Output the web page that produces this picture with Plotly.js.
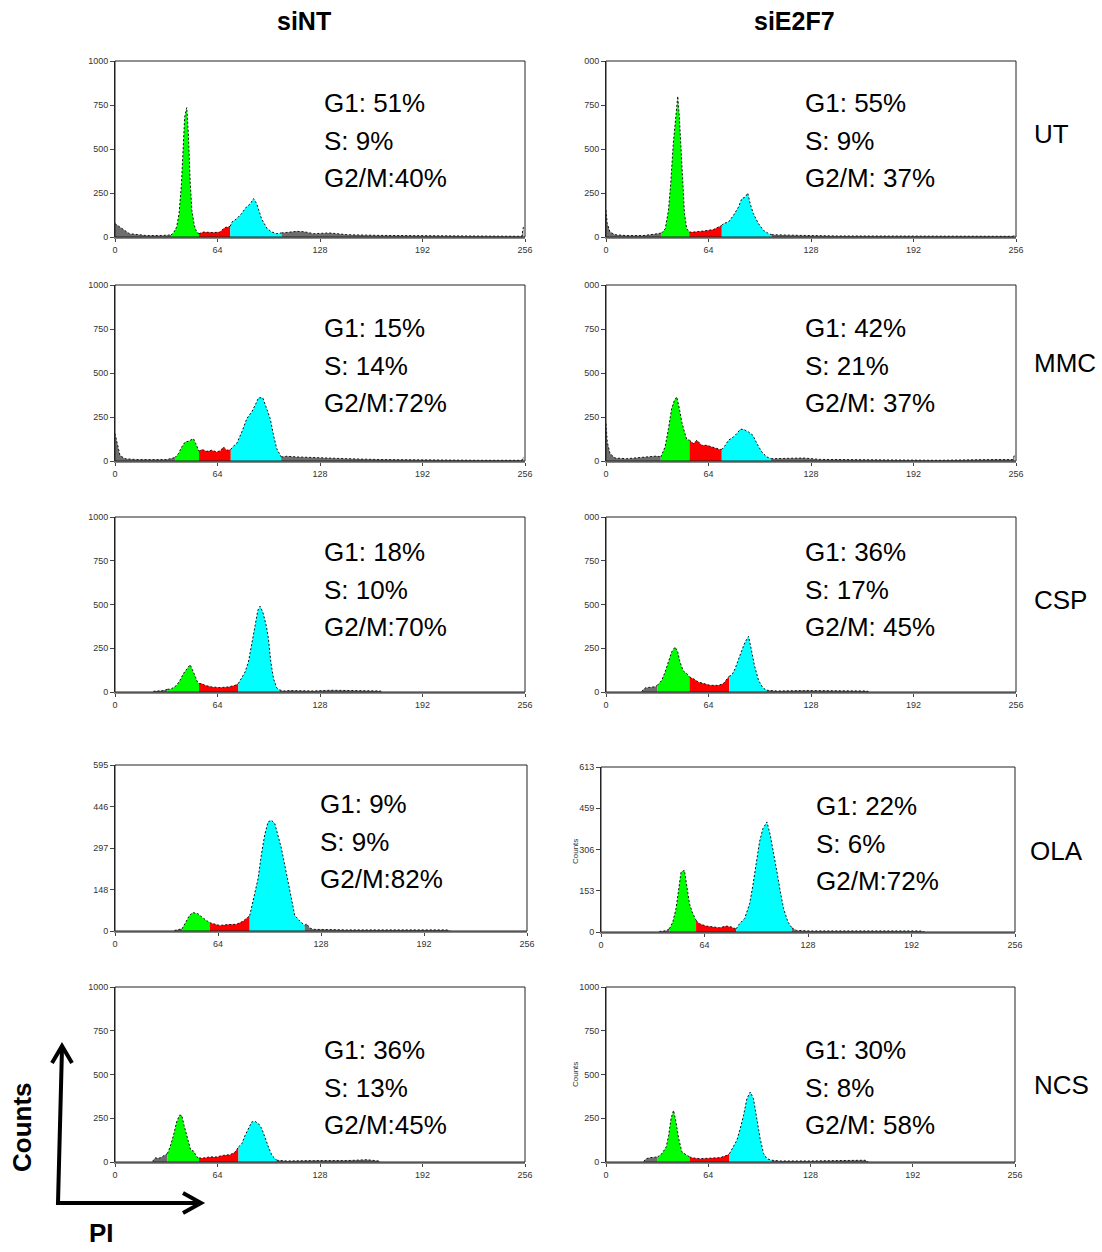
<!DOCTYPE html>
<html><head><meta charset="utf-8">
<script src="https://cdn.plot.ly/plotly-3.0.1.min.js"></script>
<style>html,body{margin:0;padding:0;background:#fff}#chart{width:1102px;height:1252px}</style>
</head><body><div id="chart"></div>
<script>
// ---------------- DATA (channel = PI intensity 0-256, counts) ----------------
const columnLabels = ['siNT', 'siE2F7'];
const rowLabels = ['UT', 'MMC', 'CSP', 'OLA', 'NCS'];

const xTickVals = [0, 64, 128, 192, 256];
const xTickText = ['0', '64', '128', '192', '256'];
const yTickVals1000 = [0, 250, 500, 750, 1000];
const yTickTextLeft = ['0', '250', '500', '750', '1000'];
const yTickTextRight = ['0', '250', '500', '750', '000'];
const yTickValsOlaA = [0, 148.75, 297.5, 446.25, 595];
const yTickTextOlaA = ['0', '148', '297', '446', '595'];
const yTickValsOlaB = [0, 153.25, 306.5, 459.75, 613];
const yTickTextOlaB = ['0', '153', '306', '459', '613'];

// gates: [G1 start, S start, G2/M start, G2/M end]
const utA_ch = [0, 1, 3, 9, 20, 30, 35, 36.5, 38.5, 40, 41.5, 42.5, 43.5, 44.8, 45.8, 47, 48, 49.5, 51, 52.5, 55, 61.5, 65.5, 68.5, 72, 73, 76, 79, 82, 84.5, 86.5, 88.5, 91.5, 95, 98, 101, 104, 108, 113.5, 118, 124, 134, 145, 166, 186, 207, 228, 249, 254, 255];
const utA_cnt = [76, 68, 57, 19, 8, 9, 12, 23, 57, 133, 303, 492, 682, 735, 587, 303, 152, 66, 28, 19, 28, 25, 28, 53, 61, 85, 104, 133, 170, 189, 218, 189, 104, 47, 28, 19, 23, 28, 32, 30, 19, 23, 13, 9, 8, 6, 6, 4, 4, 57];
const utA_gates = [35, 52.5, 72, 104];
const utA_pct = ['G1: 51%', 'S: 9%', 'G2/M:40%'];

const utB_ch = [0, 0.8, 2.5, 5.6, 13, 23, 29.6, 34.8, 37, 39, 40.4, 42, 43.8, 44.8, 45.8, 47, 48, 49, 50.4, 52, 54.6, 60.8, 67, 71.2, 72.3, 73.3, 76.5, 79.6, 82.7, 84.8, 87, 88.5, 90, 92, 95.2, 98.3, 101.5, 103.5, 113, 123, 144, 186, 230, 254, 255];
const utB_cnt = [152, 76, 28, 13, 8, 8, 15, 23, 47, 152, 303, 530, 720, 800, 682, 492, 265, 133, 47, 28, 28, 34, 42, 61, 66, 76, 85, 123, 170, 218, 227, 250, 189, 133, 76, 38, 19, 13, 13, 9, 6, 4, 4, 4, 11];
const utB_gates = [34.8, 52, 72.3, 103.5];
const utB_pct = ['G1: 55%', 'S: 9%', 'G2/M: 37%'];

const mmA_ch = [0, 1.5, 3.1, 6.2, 13.5, 32.3, 36.5, 37.5, 39.6, 41.7, 43.8, 45.8, 47.3, 49, 50.4, 51.5, 52.5, 54.2, 57.3, 60.4, 63.5, 66, 67.7, 69.8, 72.3, 74, 76, 79.2, 82.3, 85.4, 87.5, 89.6, 92.3, 94.8, 96.9, 99, 101, 103.8, 107.3, 113.5, 124, 145, 166, 186, 228, 254, 255];
const mmA_cnt = [156, 89, 32, 13, 8, 8, 17, 20, 42, 80, 108, 112, 121, 127, 99, 70, 55, 66, 55, 61, 51, 60, 80, 61, 66, 85, 99, 165, 241, 279, 317, 359, 359, 298, 241, 146, 70, 23, 27, 23, 19, 13, 8, 6, 4, 4, 23];
const mmA_gates = [37.5, 52.5, 72.3, 103.8];
const mmA_pct = ['G1: 15%', 'S: 14%', 'G2/M:72%'];

const mmB_ch = [0, 0.8, 2.5, 5.6, 12.9, 19.2, 25.4, 31.7, 34.2, 36.9, 39, 41, 42.7, 44.2, 45.8, 47.3, 49, 50.4, 52.1, 54.6, 56.7, 59.8, 62.9, 67.1, 71.2, 72.3, 73.8, 76.5, 79.6, 81.7, 83.8, 85.8, 89, 91.7, 94.2, 97.3, 100.4, 103.1, 113, 123, 133.8, 165, 206.7, 242, 254, 255];
const mmB_cnt = [212, 108, 42, 17, 13, 17, 21, 28, 23, 80, 184, 298, 345, 364, 298, 222, 165, 123, 118, 99, 118, 89, 89, 76, 66, 66, 80, 118, 137, 156, 180, 180, 165, 146, 99, 51, 23, 13, 13, 17, 9, 8, 4, 8, 8, 32];
const mmB_gates = [34.2, 52.1, 72.3, 103.1];
const mmB_pct = ['G1: 42%', 'S: 21%', 'G2/M: 37%'];

const csA_ch = [24, 30.2, 32.7, 35.4, 38.5, 40.6, 42.7, 44.8, 46.9, 48.5, 50, 51.5, 52.5, 54.2, 56.2, 60.4, 65.6, 70.8, 75, 77, 79.2, 81.2, 83.3, 85.4, 87.5, 89.2, 90.6, 92.3, 94.4, 95.8, 97.3, 99, 101, 102.7, 105.2, 109.4, 124, 134.4, 155, 165.6, 166.7];
const csA_cnt = [4, 8, 15, 19, 38, 67, 105, 133, 156, 124, 86, 57, 48, 48, 38, 29, 25, 29, 38, 48, 86, 114, 171, 267, 381, 467, 490, 457, 381, 305, 171, 76, 23, 12, 6, 8, 6, 10, 10, 6, 0];
const csA_gates = [32.7, 52.5, 77, 102.7];
const csA_pct = ['G1: 18%', 'S: 10%', 'G2/M:70%'];

const csB_ch = [22.3, 24.4, 27.5, 30.6, 32.1, 34.8, 36.9, 39, 41, 43.1, 44.8, 46.2, 48.3, 50.4, 52.1, 54.6, 57.7, 60.8, 65, 70.2, 73.3, 76.5, 76.9, 78.5, 80.6, 82.7, 84.8, 86.9, 89, 90.6, 92.7, 95.2, 98, 100.4, 106.7, 123.3, 144, 163, 164];
const csB_cnt = [4, 23, 27, 30, 38, 67, 114, 171, 229, 257, 229, 171, 120, 105, 86, 76, 57, 48, 38, 38, 48, 86, 90, 95, 133, 190, 238, 286, 318, 248, 152, 67, 23, 10, 6, 8, 6, 6, 0];
const csB_gates = [32.1, 52.1, 76.9, 100.4];
const csB_pct = ['G1: 36%', 'S: 17%', 'G2/M: 45%'];

const olA_ch = [37, 40, 41.7, 43.8, 46.3, 48.4, 51.5, 54.6, 57.1, 58.8, 60.8, 65, 70.2, 75.4, 79.5, 82.6, 83.7, 84.7, 86.8, 88.9, 90.9, 93, 95.1, 97.2, 99.3, 101.3, 103.4, 105.5, 107.6, 109.6, 111.7, 114.8, 117.9, 119, 121, 123, 143.9, 185.4, 194.8, 206.2, 208.3];
const olA_cnt = [2, 6, 8, 32, 56, 66, 62, 47, 35, 30, 26, 20, 23, 24, 35, 50, 55, 80, 128, 188, 272, 344, 391, 397, 385, 344, 296, 236, 176, 116, 56, 36, 20, 26, 11, 6, 4, 4, 6, 4, 0];
const olA_gates = [41.7, 58.8, 83.7, 117.9];
const olA_pct = ['G1: 9%', 'S: 9%', 'G2/M:82%'];

const olB_ch = [36.1, 40.3, 42.3, 44.4, 46.4, 48.1, 49.5, 51.6, 53.1, 54.7, 56.4, 57.8, 58.8, 60.9, 65, 69.2, 73.3, 77.4, 80.5, 83.2, 83.6, 85.7, 88.8, 91.9, 93.9, 96, 98, 100.1, 102.6, 104.7, 106.7, 108.8, 110.9, 112.9, 115.6, 118.1, 120.8, 129, 160, 191, 197.1, 200.2];
const olB_cnt = [2, 5, 12, 37, 87, 161, 223, 229, 161, 105, 74, 52, 43, 31, 22, 19, 16, 22, 19, 12, 12, 31, 50, 105, 173, 260, 334, 384, 409, 359, 297, 223, 149, 87, 37, 15, 6, 4, 4, 6, 4, 0];
const olB_gates = [42.3, 58.8, 83.6, 118.1];
const olB_pct = ['G1: 22%', 'S: 6%', 'G2/M:72%'];

const ncA_ch = [23.5, 25, 28.1, 31.2, 32.7, 34.4, 36.5, 38.5, 40.2, 41.7, 43.1, 45.2, 47.3, 49, 51, 52.5, 55.2, 59.4, 63.5, 67.7, 71.9, 75, 77.1, 79.2, 81.2, 83.3, 85.4, 87.5, 89.6, 91.7, 93.8, 95.8, 97.9, 101, 107.3, 124, 144.8, 157.3, 164.6, 165.6];
const ncA_cnt = [4, 23, 23, 38, 48, 86, 152, 229, 267, 267, 210, 133, 67, 63, 29, 23, 23, 29, 29, 38, 42, 57, 86, 105, 152, 190, 229, 232, 219, 190, 133, 86, 38, 10, 6, 8, 8, 13, 6, 0];
const ncA_gates = [32.7, 52.5, 77.1, 101];
const ncA_pct = ['G1: 36%', 'S: 13%', 'G2/M:45%'];

const ncB_ch = [23.6, 25.2, 27.7, 30.9, 32.3, 35, 37.7, 39.2, 40.7, 42.3, 43.8, 45.5, 47.5, 50.3, 52.3, 54.8, 59, 65.2, 71.5, 75.7, 77.3, 79.8, 81.9, 84, 86.1, 88.2, 90.3, 92.3, 94.4, 96.5, 98.6, 100.7, 103.8, 109, 127.8, 148.6, 162.2, 164.3];
const ncB_cnt = [4, 19, 25, 25, 29, 48, 86, 152, 248, 295, 229, 133, 57, 38, 29, 23, 19, 23, 25, 38, 48, 86, 124, 190, 267, 362, 400, 362, 248, 133, 48, 19, 10, 6, 6, 8, 10, 0];
const ncB_gates = [32.3, 52.3, 77.3, 103.8];
const ncB_pct = ['G1: 30%', 'S: 8%', 'G2/M: 58%'];

// ---------------- LAYOUT / STYLE ----------------
const W = 1102, H = 1252;
const px = x => x / W;
const py = y => 1 - y / H;
const FONT = 'Liberation Sans, Arial, sans-serif';
const phaseColors = ['#6e6e6e', '#00ff00', '#ff0000', '#00ffff', '#6e6e6e'];

const panels = [
  {ch: utA_ch, n: utA_cnt, g: utA_gates, pct: utA_pct, yv: yTickVals1000, yt: yTickTextLeft, ymax: 1000, box: [115, 61, 525, 237], txt: [322, 103]},
  {ch: utB_ch, n: utB_cnt, g: utB_gates, pct: utB_pct, yv: yTickVals1000, yt: yTickTextRight, ymax: 1000, box: [606, 61, 1016, 237], txt: [803, 103]},
  {ch: mmA_ch, n: mmA_cnt, g: mmA_gates, pct: mmA_pct, yv: yTickVals1000, yt: yTickTextLeft, ymax: 1000, box: [115, 285, 525, 461], txt: [322, 328]},
  {ch: mmB_ch, n: mmB_cnt, g: mmB_gates, pct: mmB_pct, yv: yTickVals1000, yt: yTickTextRight, ymax: 1000, box: [606, 285, 1016, 461], txt: [803, 328]},
  {ch: csA_ch, n: csA_cnt, g: csA_gates, pct: csA_pct, yv: yTickVals1000, yt: yTickTextLeft, ymax: 1000, box: [115, 517, 525, 692], txt: [322, 552]},
  {ch: csB_ch, n: csB_cnt, g: csB_gates, pct: csB_pct, yv: yTickVals1000, yt: yTickTextRight, ymax: 1000, box: [606, 517, 1016, 692], txt: [803, 552]},
  {ch: olA_ch, n: olA_cnt, g: olA_gates, pct: olA_pct, yv: yTickValsOlaA, yt: yTickTextOlaA, ymax: 595, box: [115, 765, 527, 931], txt: [318, 804]},
  {ch: olB_ch, n: olB_cnt, g: olB_gates, pct: olB_pct, yv: yTickValsOlaB, yt: yTickTextOlaB, ymax: 613, box: [601, 767, 1015, 932], txt: [814, 806]},
  {ch: ncA_ch, n: ncA_cnt, g: ncA_gates, pct: ncA_pct, yv: yTickVals1000, yt: yTickTextLeft, ymax: 1000, box: [115, 987, 525, 1162], txt: [322, 1050]},
  {ch: ncB_ch, n: ncB_cnt, g: ncB_gates, pct: ncB_pct, yv: yTickVals1000, yt: yTickTextLeft, ymax: 1000, box: [606, 987, 1015, 1162], txt: [803, 1050]}
];

const traces = [];
const layout = {
  width: W, height: H, margin: {l: 0, r: 0, t: 0, b: 0},
  paper_bgcolor: '#fff', plot_bgcolor: '#fff', showlegend: false,
  font: {family: FONT, color: '#000'},
  annotations: [], shapes: []
};

panels.forEach((p, i) => {
  const k = i + 1;
  const xa = 'x' + (k > 1 ? k : ''), ya = 'y' + (k > 1 ? k : '');
  const bounds = [p.ch[0], p.g[0], p.g[1], p.g[2], p.g[3], p.ch[p.ch.length - 1]];
  for (let s = 0; s < 5; s++) {
    const xs = [], ys = [];
    p.ch.forEach((c, j) => { if (c >= bounds[s] && c <= bounds[s + 1]) { xs.push(c); ys.push(p.n[j]); } });
    if (xs.length < 2) continue;
    traces.push({
      type: 'scatter', mode: 'lines', x: xs, y: ys, xaxis: xa, yaxis: ya,
      fill: 'tozeroy', fillcolor: phaseColors[s],
      line: {color: '#111', width: 1, dash: '2px,2px'}, hoverinfo: 'skip'
    });
  }
  const [x0, y0, x1, y1] = p.box;
  layout['xaxis' + (k > 1 ? k : '')] = {
    domain: [px(x0), px(x1)], range: [0, 256], anchor: ya,
    tickmode: 'array', tickvals: xTickVals, ticktext: xTickText,
    ticks: 'outside', ticklen: 3, tickcolor: '#444', tickwidth: 1,
    tickfont: {size: 9, color: '#333', family: FONT},
    showline: true, linecolor: '#8a8a8a', linewidth: 2, mirror: false,
    showgrid: false, zeroline: false, fixedrange: true
  };
  layout['yaxis' + (k > 1 ? k : '')] = {
    domain: [py(y1), py(y0)], range: [0, p.ymax], anchor: xa,
    tickmode: 'array', tickvals: p.yv, ticktext: p.yt,
    ticks: 'outside', ticklen: 4, tickcolor: '#444', tickwidth: 1,
    tickfont: {size: 9, color: '#333', family: FONT},
    showline: true, linecolor: '#222', linewidth: 1, mirror: false,
    showgrid: false, zeroline: false, fixedrange: true
  };
  layout.shapes.push({
    type: 'rect', xref: xa + ' domain', yref: ya + ' domain', x0: 0, x1: 1, y0: 0, y1: 1,
    line: {color: '#222', width: 1}, fillcolor: 'rgba(0,0,0,0)', layer: 'above'
  });
  p.pct.forEach((t, j) => {
    layout.annotations.push({
      xref: 'paper', yref: 'paper', x: px(p.txt[0]), y: py(p.txt[1] + j * 37.5),
      xanchor: 'left', yanchor: 'middle', showarrow: false, text: t,
      font: {family: FONT, size: 26, color: '#000'}
    });
  });
});

// column headers
[[304, 21], [794, 21]].forEach((pos, i) => {
  layout.annotations.push({xref: 'paper', yref: 'paper', x: px(pos[0]), y: py(pos[1]),
    xanchor: 'center', yanchor: 'middle', showarrow: false,
    text: '<b>' + columnLabels[i] + '</b>', font: {family: FONT, size: 25, color: '#000'}});
});
// row labels
[[1032, 134], [1032, 363], [1032, 600], [1028, 851], [1032, 1085]].forEach((pos, i) => {
  layout.annotations.push({xref: 'paper', yref: 'paper', x: px(pos[0]), y: py(pos[1]),
    xanchor: 'left', yanchor: 'middle', showarrow: false,
    text: rowLabels[i], font: {family: FONT, size: 26, color: '#000'}});
});
// small axis titles
[[575, 852], [575, 1075]].forEach(pos => {
  layout.annotations.push({xref: 'paper', yref: 'paper', x: px(pos[0]), y: py(pos[1]),
    xanchor: 'center', yanchor: 'middle', showarrow: false, textangle: -90,
    text: 'Counts', font: {family: FONT, size: 8, color: '#333'}});
});
// big axis labels
layout.annotations.push({xref: 'paper', yref: 'paper', x: px(22), y: py(1127),
  xanchor: 'center', yanchor: 'middle', showarrow: false, textangle: -90,
  text: '<b>Counts</b>', font: {family: FONT, size: 26, color: '#000'}});
layout.annotations.push({xref: 'paper', yref: 'paper', x: px(101), y: py(1233),
  xanchor: 'center', yanchor: 'middle', showarrow: false,
  text: '<b>PI</b>', font: {family: FONT, size: 26, color: '#000'}});

// arrows
const P = (x, y) => px(x).toFixed(5) + ' ' + py(y).toFixed(5);
layout.shapes.push({type: 'path', xref: 'paper', yref: 'paper',
  path: 'M ' + P(62, 1048) + ' L ' + P(58, 1203) + ' L ' + P(199, 1203),
  line: {color: '#000', width: 4}});
layout.shapes.push({type: 'path', xref: 'paper', yref: 'paper',
  path: 'M ' + P(52, 1063) + ' L ' + P(62, 1046) + ' L ' + P(72, 1063),
  line: {color: '#000', width: 4}});
layout.shapes.push({type: 'path', xref: 'paper', yref: 'paper',
  path: 'M ' + P(183, 1193) + ' L ' + P(201, 1203) + ' L ' + P(183, 1213),
  line: {color: '#000', width: 4}});

Plotly.newPlot('chart', traces, layout, {staticPlot: true, displayModeBar: false});
</script>
</body></html>
